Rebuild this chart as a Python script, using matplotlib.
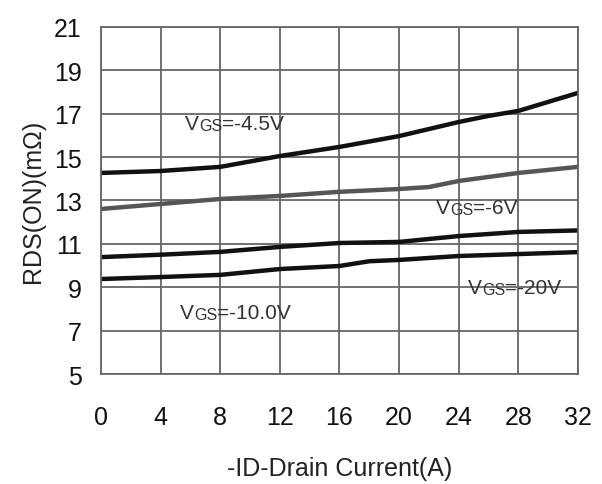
import matplotlib
matplotlib.use("Agg")
import matplotlib.pyplot as plt

plt.rcParams['font.family'] = ['Liberation Sans', 'DejaVu Sans']

# -ID drain current (A) and RDS(ON) (mOhm)
id_45 = [0, 4, 8, 12, 16, 20, 24, 26, 28, 32]
r_45 = [14.27, 14.36, 14.55, 15.05, 15.47, 15.97, 16.62, 16.9, 17.13, 17.96]

id_6 = [0, 4, 8, 12, 16, 20, 22, 24, 28, 32]
r_6 = [12.61, 12.84, 13.07, 13.21, 13.4, 13.53, 13.62, 13.9, 14.27, 14.55]

id_10 = [0, 4, 8, 12, 16, 20, 24, 28, 32]
r_10 = [10.39, 10.5, 10.63, 10.86, 11.04, 11.09, 11.36, 11.55, 11.62]

id_20 = [0, 4, 8, 12, 16, 18, 20, 24, 28, 32]
r_20 = [9.38, 9.47, 9.57, 9.84, 9.98, 10.2, 10.26, 10.44, 10.53, 10.62]

x_ticks = list(range(0, 33, 4))
y_ticks = list(range(5, 22, 2))

# label text: (x, y, value part)
labels = [(5.64, 16.30, "=-4.5V"), (22.47, 12.42, "=-6V"),
          (5.30, 7.58, "=-10.0V"), (24.62, 8.73, "=-20V")]

fig = plt.figure(figsize=(6.02, 4.85), dpi=100)
ax = fig.add_axes([0.1678, 0.2268, 0.7923, 0.7155])

ax.plot(id_45, r_45, color='#111111', lw=3.2)
ax.plot(id_6, r_6, color='#555555', lw=3.2)
ax.plot(id_10, r_10, color='#111111', lw=3.2)
ax.plot(id_20, r_20, color='#111111', lw=3.2)

for xx, yy, txt in labels:
    t1 = ax.text(xx, yy, "V", fontsize=15, color='#333333', va='baseline')
    t2 = ax.annotate("GS", xy=(1, 0), xycoords=t1, fontsize=11.5,
                     color='#333333', va='bottom')
    ax.annotate(txt, xy=(1, 0), xycoords=t2, fontsize=15,
                color='#333333', va='bottom')

ax.set_xlim(0, 32)
ax.set_ylim(5, 21)
ax.set_xticks(x_ticks)
ax.set_yticks(y_ticks)
ax.grid(True, color='#666666', lw=1.3)
for s in ax.spines.values():
    s.set_color('#666666')
    s.set_linewidth(1.3)
ax.tick_params(axis='x', length=0, pad=22, labelsize=18, colors='#111111')
ax.tick_params(axis='y', length=0, pad=14, labelsize=18, colors='#111111')

ax.set_xlabel("-ID-Drain Current(A)", fontsize=18, labelpad=20, color='#222222')
ax.set_ylabel("RDS(ON)(m\u03a9)", fontsize=18, labelpad=6, color='#222222')

fig.savefig("out.png", dpi=100)
